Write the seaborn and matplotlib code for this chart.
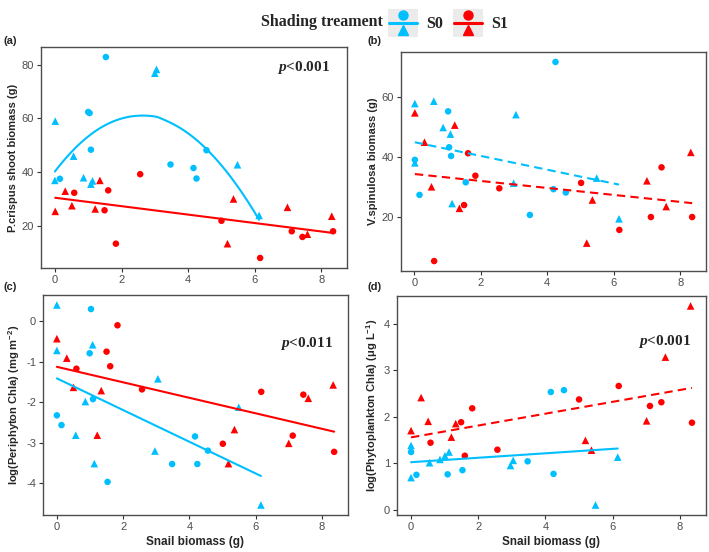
import numpy as np
import pandas as pd
import seaborn as sns
import matplotlib.pyplot as plt
from matplotlib.lines import Line2D
from matplotlib.patches import Rectangle
from matplotlib.legend_handler import HandlerBase

## values: x = snail biomass, shape = point symbol
a_s0_x = [1.53, 3.00, 3.05, 0.01, 1.00, 1.04, 1.08, 0.56, 0.00, 0.15, 0.86, 1.08, 1.13, 3.47, 4.16, 4.25, 4.55, 5.48, 6.13]
a_s0_y = [82.8, 76.8, 78.2, 59.0, 62.4, 62.0, 48.4, 46.0, 37.0, 37.6, 38.0, 35.6, 36.8, 42.9, 41.6, 37.7, 48.2, 42.8, 24.0]
a_s0_m = ['o', '^', '^', '^', 'o', 'o', 'o', '^', '^', 'o', '^', '^', '^', 'o', 'o', 'o', 'o', '^', '^']
a_s1_x = [0.01, 0.31, 0.58, 0.51, 1.21, 1.35, 1.49, 1.60, 1.83, 2.56, 5.00, 5.18, 5.36, 6.16, 6.98, 7.11, 7.43, 7.58, 8.31, 8.35]
a_s1_y = [25.5, 33.0, 32.4, 27.6, 26.4, 37.0, 25.9, 33.3, 13.5, 39.3, 22.0, 13.5, 30.1, 8.2, 27.0, 18.1, 16.0, 17.0, 23.7, 18.1]
a_s1_m = ['^', '^', 'o', '^', '^', '^', 'o', 'o', 'o', 'o', 'o', '^', '^', 'o', '^', 'o', 'o', '^', '^', 'o']

b_s0_x = [0.02, 0.59, 1.02, 0.87, 1.09, 1.05, 1.11, 0.02, 0.02, 0.16, 1.55, 1.14, 3.06, 2.99, 4.25, 3.48, 4.19, 4.56, 5.49, 6.16]
b_s0_y = [57.8, 58.6, 55.2, 49.8, 47.6, 43.2, 40.3, 39.0, 38.0, 27.3, 31.5, 24.4, 54.1, 31.2, 71.7, 20.6, 29.2, 28.1, 32.9, 19.3]
b_s0_m = ['^', '^', 'o', '^', '^', 'o', 'o', 'o', '^', 'o', 'o', '^', '^', '^', 'o', 'o', 'o', 'o', '^', '^']
b_s1_x = [0.02, 0.31, 0.60, 0.52, 1.22, 1.36, 1.50, 1.62, 1.84, 2.56, 5.02, 5.19, 5.36, 6.17, 7.00, 7.12, 7.44, 7.58, 8.32, 8.36]
b_s1_y = [54.7, 44.9, 5.2, 30.0, 50.6, 22.8, 23.9, 41.2, 33.7, 29.5, 31.3, 11.2, 25.6, 15.6, 32.0, 19.9, 36.5, 23.4, 41.5, 19.9]
b_s1_m = ['^', '^', 'o', '^', '^', '^', 'o', 'o', 'o', 'o', 'o', '^', '^', 'o', '^', 'o', 'o', '^', '^', 'o']

c_s0_x = [0.00, 1.03, 0.00, 0.99, 1.08, 0.86, 1.09, 0.00, 0.14, 0.57, 1.13, 1.53, 3.05, 2.96, 3.48, 4.17, 4.24, 4.56, 5.49, 6.16]
c_s0_y = [0.40, 0.30, -0.72, -0.79, -0.58, -1.98, -1.92, -2.32, -2.56, -2.81, -3.51, -3.96, -1.42, -3.20, -3.52, -2.84, -3.52, -3.19, -2.12, -4.53]
c_s0_m = ['^', 'o', '^', 'o', '^', '^', 'o', 'o', 'o', '^', '^', 'o', '^', '^', 'o', 'o', 'o', 'o', '^', '^']
c_s1_x = [0.00, 0.30, 0.59, 0.50, 1.34, 1.22, 1.50, 1.61, 1.83, 2.57, 5.01, 5.18, 5.36, 6.17, 7.00, 7.12, 7.44, 7.59, 8.34, 8.37]
c_s1_y = [-0.43, -0.91, -1.17, -1.63, -1.71, -2.81, -0.75, -1.11, -0.10, -1.68, -3.02, -3.51, -2.67, -1.74, -3.01, -2.82, -1.81, -1.90, -1.57, -3.22]
c_s1_m = ['^', '^', 'o', '^', '^', '^', 'o', 'o', 'o', 'o', 'o', '^', '^', 'o', '^', 'o', 'o', '^', '^', 'o']

d_s0_x = [0.00, 0.00, 0.00, 0.16, 0.55, 0.86, 1.01, 1.13, 1.09, 1.53, 2.96, 3.04, 3.47, 4.16, 4.24, 4.55, 5.49, 6.15]
d_s0_y = [1.38, 1.24, 0.69, 0.75, 1.01, 1.08, 1.16, 1.24, 0.76, 0.85, 0.95, 1.06, 1.04, 2.53, 0.77, 2.57, 0.10, 1.13]
d_s0_m = ['^', 'o', '^', 'o', '^', '^', '^', '^', 'o', 'o', '^', '^', 'o', 'o', 'o', 'o', '^', '^']
d_s1_x = [0.00, 0.30, 0.51, 0.58, 1.20, 1.33, 1.49, 1.60, 1.82, 2.57, 5.00, 5.19, 5.37, 6.18, 7.01, 7.11, 7.45, 7.57, 8.32, 8.36]
d_s1_y = [1.70, 2.41, 1.90, 1.44, 1.56, 1.85, 1.88, 1.16, 2.18, 1.29, 2.37, 1.49, 1.28, 2.66, 1.91, 2.23, 2.31, 3.28, 4.38, 1.87]
d_s1_m = ['^', '^', '^', 'o', '^', '^', 'o', 'o', 'o', 'o', 'o', '^', '^', 'o', '^', 'o', 'o', '^', '^', 'o']

ylabels = {'a': 'P.crispus shoot biomass (g)',
           'b': 'V.spinulosa biomass (g)',
           'c': 'log(Periphyton Chla) (mg m$^{-2}$)',
           'd': 'log(Phytoplankton Chla) (\u03bcg L$^{-1}$)'}
yticks = {'a': [20, 40, 60, 80], 'b': [20, 40, 60],
          'c': [0, -1, -2, -3, -4], 'd': [0, 1, 2, 3, 4]}
pvals = {'a': '<0.001', 'c': '<0.011', 'd': '<0.001'}
# fit type / line style per panel and treatment
fits = {'a': {'S0': ('loess', '-'), 'S1': ('lm', '-')},
        'b': {'S0': ('lm', '--'), 'S1': ('lm', '--')},
        'c': {'S0': ('lm', '-'), 'S1': ('lm', '-')},
        'd': {'S0': ('lm', '-'), 'S1': ('lm', '--')}}

raw = {'a': (a_s0_x, a_s0_y, a_s0_m, a_s1_x, a_s1_y, a_s1_m),
       'b': (b_s0_x, b_s0_y, b_s0_m, b_s1_x, b_s1_y, b_s1_m),
       'c': (c_s0_x, c_s0_y, c_s0_m, c_s1_x, c_s1_y, c_s1_m),
       'd': (d_s0_x, d_s0_y, d_s0_m, d_s1_x, d_s1_y, d_s1_m)}

frames = []
for p, (x0, y0, m0, x1, y1, m1) in raw.items():
    frames.append(pd.DataFrame({'panel': p, 'trt': 'S0', 'x': x0, 'y': y0, 'shape': m0}))
    frames.append(pd.DataFrame({'panel': p, 'trt': 'S1', 'x': x1, 'y': y1, 'shape': m1}))
df = pd.concat(frames, ignore_index=True)

pal = {'S0': '#00BFFF', 'S1': '#FF0000'}
DASH = (0, (4, 2.5))


def loess(x, y, span=1.5, n_out=80):
    # local quadratic, tricube weights (span > 1 widens the window like R)
    x = np.asarray(x, float)
    y = np.asarray(y, float)
    q = int(np.floor(len(x) * min(span, 1)))
    grid = np.linspace(x.min(), x.max(), n_out)
    fit = []
    for g in grid:
        d = np.abs(x - g)
        h = np.sort(d)[q - 1]
        if span > 1:
            h = d.max() * span
        w = np.clip(1 - (d / h) ** 3, 0, None) ** 3
        X = np.column_stack([np.ones_like(x), x - g, (x - g) ** 2])
        sw = np.sqrt(w)
        beta = np.linalg.lstsq(X * sw[:, None], y * sw, rcond=None)[0]
        fit.append(beta[0])
    return grid, np.array(fit)


class StackKey(HandlerBase):
    # ggplot-like key: grey square with point / line / triangle
    def create_artists(self, legend, orig_handle, xdescent, ydescent,
                       width, height, fontsize, trans):
        c = orig_handle.get_color()
        x0, y0 = -xdescent, -ydescent
        bg = Rectangle((x0, y0), width, height, facecolor='#EBEBEB',
                       edgecolor='none', transform=trans)
        ln = Line2D([x0 + width * 0.05, x0 + width * 0.95], [y0 + height * 0.5] * 2,
                    color=c, lw=2.2, transform=trans)
        top = Line2D([x0 + width / 2], [y0 + height * 0.77], marker='o', ms=6.5,
                     color=c, ls='none', transform=trans)
        bot = Line2D([x0 + width / 2], [y0 + height * 0.25], marker='^', ms=7,
                     color=c, ls='none', transform=trans)
        return [bg, ln, top, bot]


sns.set_theme(style='white')
plt.rcParams['font.family'] = ['Liberation Sans', 'DejaVu Sans']
plt.rcParams['axes.unicode_minus'] = False
plt.rcParams['mathtext.fontset'] = 'custom'
plt.rcParams['mathtext.rm'] = 'Liberation Sans'
plt.rcParams['mathtext.it'] = 'Liberation Serif:italic:bold'
plt.rcParams['mathtext.bf'] = 'Liberation Sans:bold'
plt.rcParams['mathtext.default'] = 'regular'

fig = plt.figure(figsize=(7.09, 5.52), dpi=100)
W, H = 709, 552
boxes = {'a': (41, 47, 347, 268), 'b': (401, 52, 706, 271),
         'c': (43, 295, 348, 515), 'd': (397, 296, 706, 515)}
ptxt_pos = {'a': (0.945, 0.905), 'c': (0.95, 0.78), 'd': (0.95, 0.79)}

for p, (l, t, r, b) in boxes.items():
    ax = fig.add_axes([l / W, 1 - b / H, (r - l) / W, (b - t) / H])
    sub = df[df['panel'] == p]
    sns.scatterplot(data=sub, x='x', y='y', hue='trt', style='shape', size='shape',
                    palette=pal, markers={'o': 'o', '^': '^'}, sizes={'o': 22, '^': 30},
                    linewidth=0, legend=False, ax=ax, zorder=2)
    for trt in ['S0', 'S1']:
        g = sub[sub['trt'] == trt]
        kind, ls = fits[p][trt]
        if kind == 'loess':
            gx, gy = loess(g['x'], g['y'])
            sns.lineplot(x=gx, y=gy, color=pal[trt], lw=1.5, ax=ax, zorder=3)
        else:
            sns.regplot(data=g, x='x', y='y', scatter=False, ci=None, truncate=True,
                        color=pal[trt], ax=ax,
                        line_kws={'lw': 1.5, 'ls': DASH if ls == '--' else '-', 'zorder': 3})
    ax.set_xticks([0, 2, 4, 6, 8])
    ax.set_yticks(yticks[p])
    ax.margins(0.05)
    ax.tick_params(axis='both', labelsize=8, labelcolor='#4D4D4D', color='#333333',
                   length=3, width=0.8, pad=2, left=True, bottom=True, direction='out')
    for s in ax.spines.values():
        s.set_color('#4D4D4D')
        s.set_linewidth(1.0)
    ax.set_ylabel(ylabels[p], fontsize=8, fontweight='bold', labelpad=3)
    if p in ('c', 'd'):
        ax.set_xlabel('Snail biomass (g)', fontsize=8.5, fontweight='bold', labelpad=3)
    else:
        ax.set_xlabel('')
    if p in pvals:
        px, py = ptxt_pos[p]
        ax.text(px, py, '$\\it{p}$' + pvals[p], transform=ax.transAxes,
                ha='right', va='center', fontsize=11, fontweight='bold',
                family='Liberation Serif')

lab_pos = {'a': (3, 41), 'b': (367, 41), 'c': (3, 287), 'd': (367, 287)}
for p, (x, y) in lab_pos.items():
    fig.text(x / W, 1 - y / H, '(%s)' % p, fontsize=8, fontweight='bold',
             ha='left', va='center')

fig.text(383 / W, 1 - 22 / H, 'Shading treament', fontsize=11.5, fontweight='bold',
         family='Liberation Serif', ha='right', va='center')
handles = [Line2D([], [], color=pal['S0']), Line2D([], [], color=pal['S1'])]
fig.legend(handles=handles, labels=['S0', 'S1'], ncol=2, loc='center',
           bbox_to_anchor=(448 / W, 1 - 23 / H), frameon=False,
           handler_map={Line2D: StackKey()}, handlelength=1.9, handleheight=2.4,
           handletextpad=0.5, columnspacing=0.6, borderpad=0,
           prop={'family': 'Liberation Serif', 'weight': 'bold', 'size': 11.5})

fig.savefig('out.png', dpi=100)
